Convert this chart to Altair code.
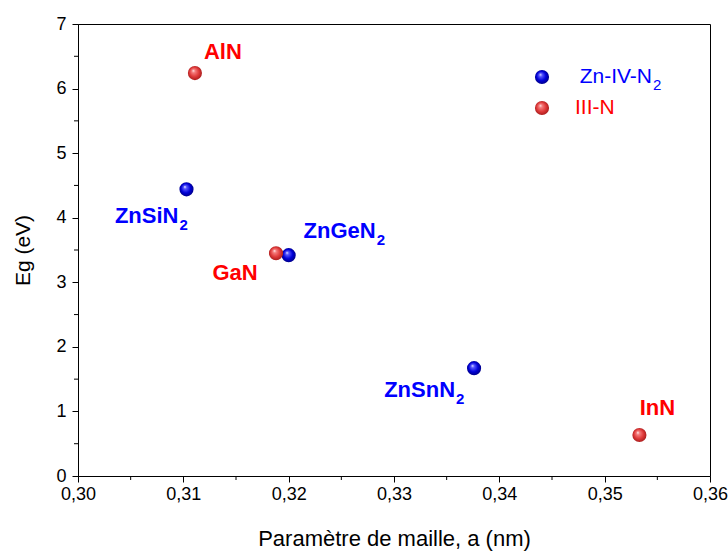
import altair as alt
import pandas as pd

# ---- data ----
compounds = ["ZnSiN2", "ZnGeN2", "ZnSnN2", "AlN", "GaN", "InN"]
label_main = ["ZnSiN", "ZnGeN", "ZnSnN", "AlN", "GaN", "InN"]
label_sub = ["2", "2", "2", "", "", ""]
groups = ["Zn-IV-N2", "Zn-IV-N2", "Zn-IV-N2", "III-N", "III-N", "III-N"]
lattice_a = [0.3103, 0.3200, 0.3376, 0.3111, 0.3188, 0.3533]
band_gap = [4.44, 3.42, 1.67, 6.24, 3.45, 0.635]

series_main = ["Zn-IV-N", "III-N"]
series_sub = ["2", ""]
series_keys = ["Zn-IV-N2", "III-N"]

x_major = [0.30, 0.31, 0.32, 0.33, 0.34, 0.35, 0.36]
x_minor = [0.305, 0.315, 0.325, 0.335, 0.345, 0.355]
y_major = [0, 1, 2, 3, 4, 5, 6, 7]
y_minor = [0.5, 1.5, 2.5, 3.5, 4.5, 5.5, 6.5]

df = pd.DataFrame({"compound": compounds, "main": label_main, "sub": label_sub,
                   "group": groups, "a": lattice_a, "eg": band_gap})

FONT = "Liberation Sans"
BLUE = "#0000ff"
RED = "#ff0000"

def sphere(dark, mid, light):
    return alt.RadialGradient(
        gradient="radial", x1=0.38, y1=0.32, r1=0.0, x2=0.5, y2=0.5, r2=0.55,
        stops=[alt.GradientStop(color="#ffffff", offset=0.0),
               alt.GradientStop(color=light, offset=0.2),
               alt.GradientStop(color=mid, offset=0.6),
               alt.GradientStop(color=dark, offset=1.0)])

grad = {"Zn-IV-N2": sphere("#00007a", "#0000d8", "#5a5aff"),
        "III-N": sphere("#a01818", "#e03a3a", "#f58080")}
text_color = {"Zn-IV-N2": BLUE, "III-N": RED}

xs = alt.Scale(domain=[0.30, 0.36], nice=False, zero=False)
ys = alt.Scale(domain=[0, 7], nice=False, zero=False)

x_enc = alt.X("a:Q", scale=xs, title="Paramètre de maille, a (nm)",
              axis=alt.Axis(values=x_major, grid=False, tickSize=6,
                            labelExpr="replace(format(datum.value,'.2f'),'.',',')",
                            labelFontSize=18, titleFontSize=22, labelPadding=3,
                            titlePadding=25, labelFlush=False))
y_enc = alt.Y("eg:Q", scale=ys, title="Eg (eV)",
              axis=alt.Axis(values=y_major, grid=False, tickSize=6, format="d",
                            labelFontSize=18, titleFontSize=21, labelPadding=6,
                            titlePadding=22, labelFlush=False))

layers = []

# minor ticks (outside plot area)
mx = pd.DataFrame({"a": x_minor})
my = pd.DataFrame({"eg": y_minor})
layers.append(alt.Chart(mx).mark_rule(color="black", strokeWidth=1, clip=False).encode(
    x=alt.X("a:Q", scale=xs), y=alt.value(452), y2=alt.value(456)))
layers.append(alt.Chart(my).mark_rule(color="black", strokeWidth=1, clip=False).encode(
    y=alt.Y("eg:Q", scale=ys), x=alt.value(0), x2=alt.value(-4)))

# spheres
for i, key in enumerate(series_keys):
    sub = df[df["group"] == key]
    layers.append(alt.Chart(sub).mark_point(filled=True, shape="circle", size=200,
                                            fill=grad[key], strokeWidth=0, opacity=1).encode(
        x=x_enc, y=y_enc))

# labels: (dx, dy) offsets, main anchored right when a subscript follows
offsets = {"ZnSiN2": (-8, 34), "ZnGeN2": (87, -17), "ZnSnN2": (-19, 29),
           "AlN": (28, -14), "GaN": (-41, 27), "InN": (18, -20)}
for comp in compounds:
    row = df[df["compound"] == comp]
    key = row["group"].iloc[0]
    dx, dy = offsets[comp]
    has_sub = row["sub"].iloc[0] != ""
    layers.append(alt.Chart(row).mark_text(
        font=FONT, fontSize=22, fontWeight="bold", color=text_color[key],
        align="right" if has_sub else "center", baseline="alphabetic", dx=dx, dy=dy).encode(
        x=alt.X("a:Q", scale=xs), y=alt.Y("eg:Q", scale=ys), text="main:N"))
    if has_sub:
        layers.append(alt.Chart(row).mark_text(
            font=FONT, fontSize=15, fontWeight="bold", color=text_color[key],
            align="left", baseline="alphabetic", dx=dx + 1, dy=dy + 7).encode(
            x=alt.X("a:Q", scale=xs), y=alt.Y("eg:Q", scale=ys), text="sub:N"))

# legend (drawn manually)
leg_y = [53, 84]
for i, key in enumerate(series_keys):
    ldf = pd.DataFrame({"main": [series_main[i]], "sub": [series_sub[i]]})
    layers.append(alt.Chart(ldf).mark_point(filled=True, shape="circle", size=200,
                                            fill=grad[key], strokeWidth=0, opacity=1).encode(
        x=alt.value(464), y=alt.value(leg_y[i])))
    if series_sub[i]:
        layers.append(alt.Chart(ldf).mark_text(font=FONT, fontSize=21, color=text_color[key],
                                               align="right", baseline="middle").encode(
            x=alt.value(574), y=alt.value(leg_y[i]), text="main:N"))
        layers.append(alt.Chart(ldf).mark_text(font=FONT, fontSize=15, color=text_color[key],
                                               align="left", baseline="alphabetic").encode(
            x=alt.value(575), y=alt.value(leg_y[i] + 13), text="sub:N"))
    else:
        layers.append(alt.Chart(ldf).mark_text(font=FONT, fontSize=21, color=text_color[key],
                                               align="left", baseline="middle").encode(
            x=alt.value(497), y=alt.value(leg_y[i]), text="main:N"))

chart = alt.layer(*layers).properties(
    width=632, height=452,
    autosize=alt.AutoSizeParams(type="none"),
    padding={"left": 78, "top": 24, "right": 18, "bottom": 75},
    background="white",
).configure_view(stroke="black", strokeWidth=1).configure_axis(
    domainColor="black", tickColor="black", labelColor="black", titleColor="black",
    labelFont=FONT, titleFont=FONT, titleFontWeight="normal", domainWidth=1, tickWidth=1)

chart.save("out.html", embed_options={"renderer": "svg", "actions": False})
